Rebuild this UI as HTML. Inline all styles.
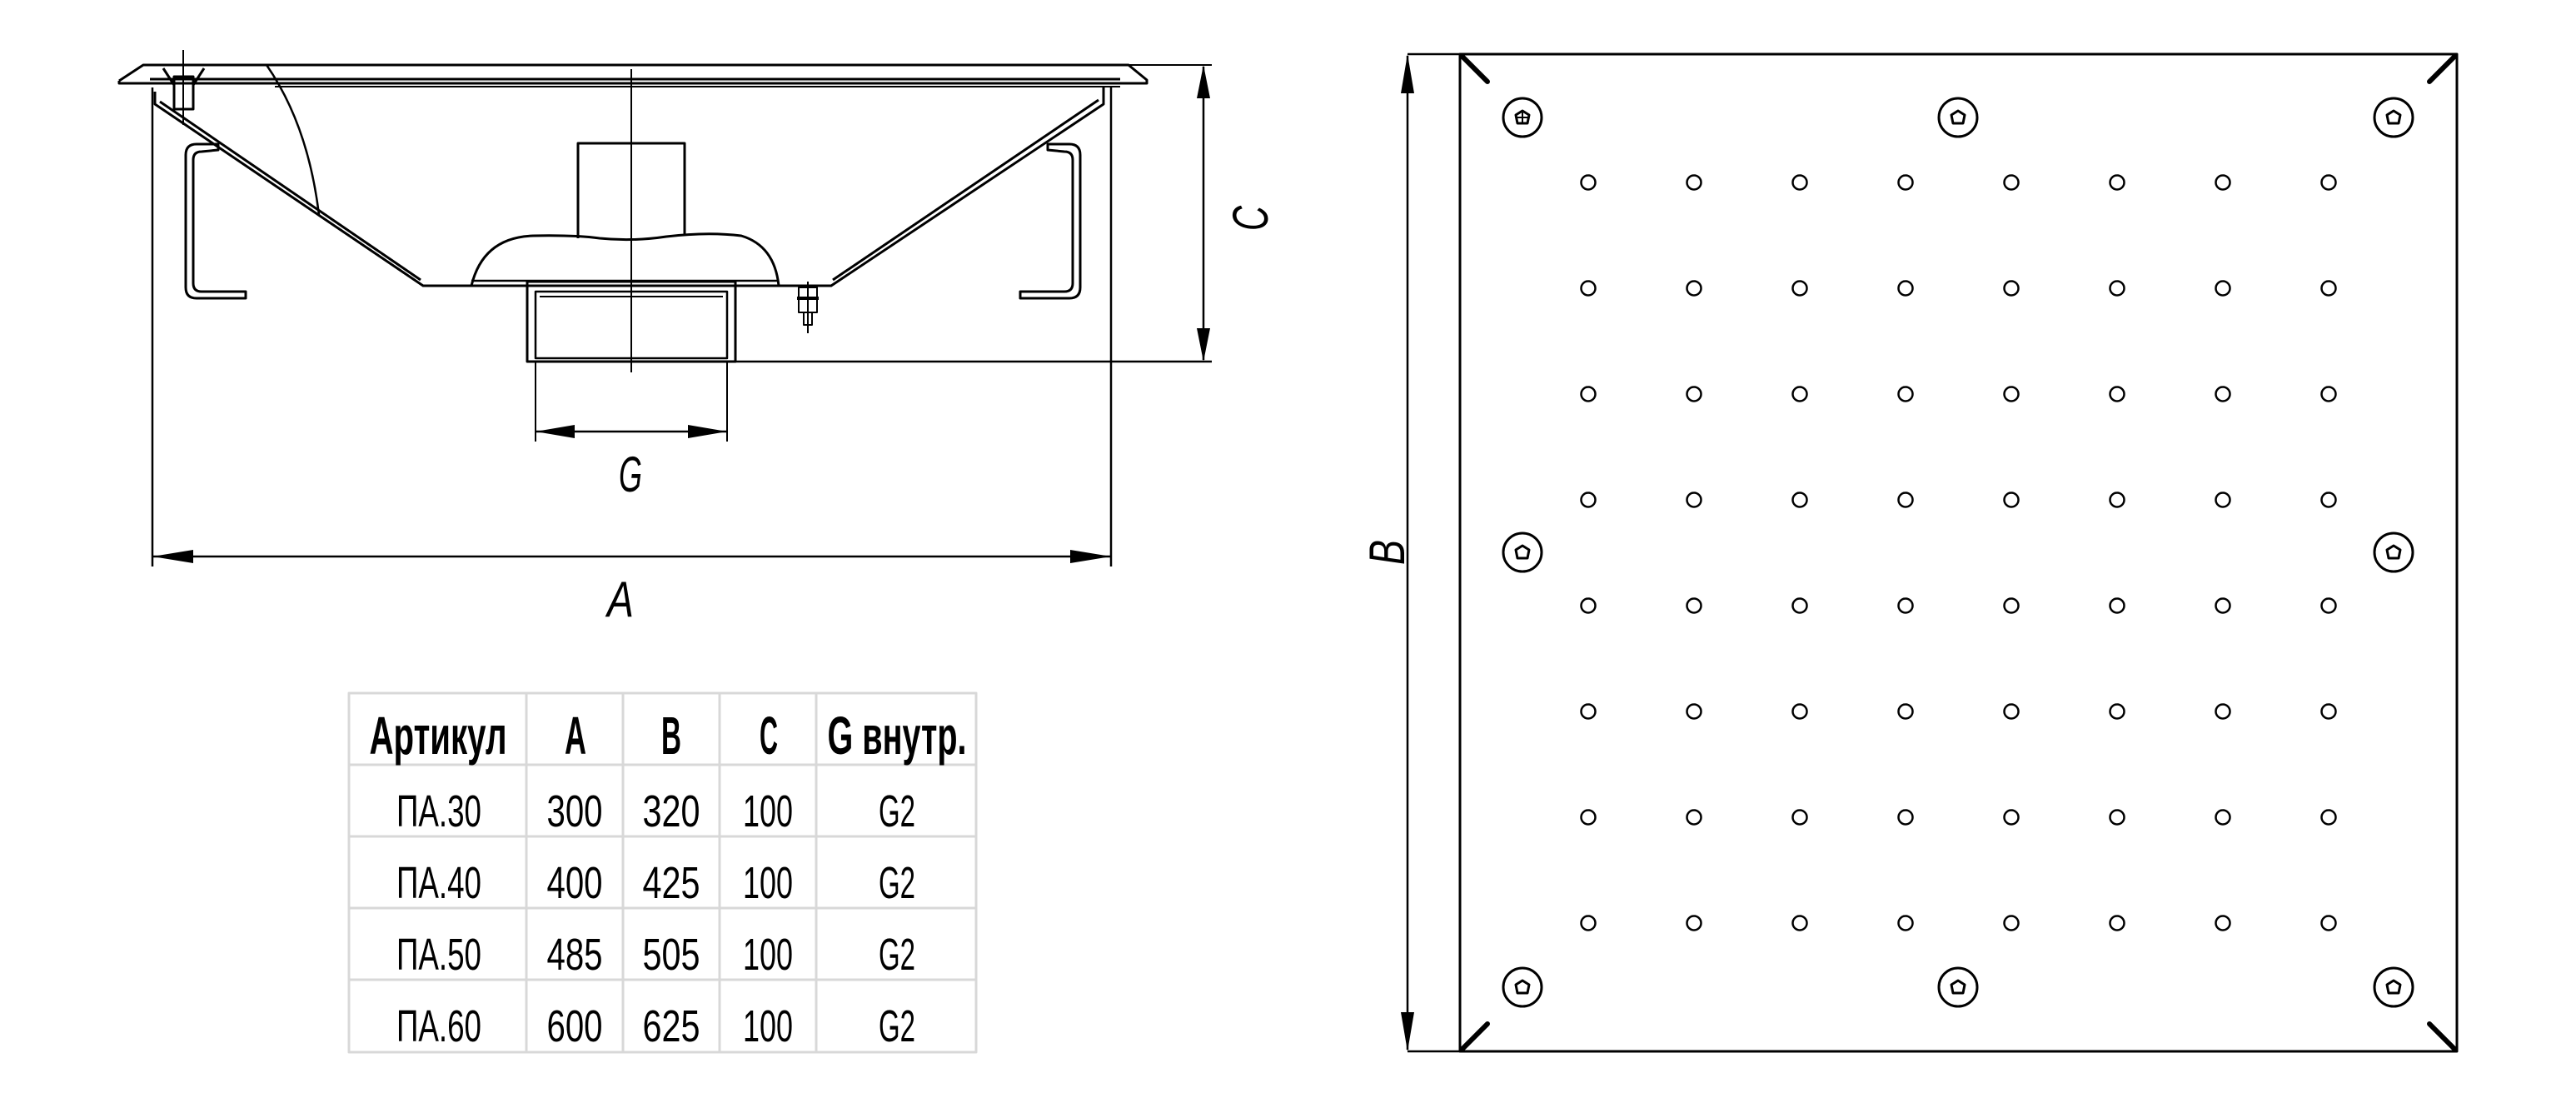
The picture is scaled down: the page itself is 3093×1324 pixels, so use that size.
<!DOCTYPE html>
<html><head><meta charset="utf-8"><style>
html,body{margin:0;padding:0;background:#fff;}
svg{display:block;}
</style></head><body>
<svg width="3093" height="1324" viewBox="0 0 3093 1324" xmlns="http://www.w3.org/2000/svg">
<g fill="none" stroke="#000" stroke-width="3" stroke-linejoin="round">
<polyline points="143,97 172,78 1355,78 1377,96 1377,100 143,100 143,97"/>
<line x1="180" y1="95" x2="1345" y2="95"/>
<line x1="330" y1="104" x2="1345" y2="104" stroke-width="2"/>
<line x1="183" y1="105" x2="183" y2="680" stroke-width="2.5"/>
<line x1="1334" y1="105" x2="1334" y2="680" stroke-width="2.5"/>
<line x1="220" y1="60" x2="220" y2="150" stroke-width="2"/>
<rect x="209" y="92" width="23" height="39"/>
<polyline points="196,82 209,102"/><polyline points="245,82 232,102"/>
<polyline points="186,110 186,125 508,343 998,343 1325,125 1325,105"/>
<polyline points="192,122 505,336"/>
<polyline points="1319,120 1000,336"/>
<path d="M320,78 Q370,150 383,258" stroke-width="2.5"/>
<path d="M262,173 L236,173 Q223,173 223,186 L223,345 Q223,358 236,358 L295,358 L295,350 L242,350 Q232,350 232,340 L232,192 Q232,182 242,182 L262,180 Z"/>
<path d="M1258,173 L1284,173 Q1297,173 1297,186 L1297,345 Q1297,358 1284,358 L1225,358 L1225,350 L1278,350 Q1288,350 1288,340 L1288,192 Q1288,182 1278,182 L1258,180 Z"/>
<line x1="758" y1="83" x2="758" y2="447" stroke-width="2"/>
<polyline points="694,286 694,172 822,172 822,281"/>
<path d="M566,343 Q580,285 640,283 Q690,282 720,286 Q760,290 800,284 Q850,278 890,283 Q930,295 935,343"/>
<line x1="566" y1="337" x2="935" y2="337" stroke-width="2.5"/>
<rect x="633" y="338" width="250" height="96"/>
<rect x="643" y="350" width="230" height="80" stroke-width="2.5"/>
<line x1="648" y1="356" x2="868" y2="356" stroke-width="2"/>
<rect x="959" y="345" width="22" height="30" stroke-width="2"/>
<line x1="957" y1="358" x2="983" y2="358" stroke-width="4"/>
<rect x="965" y="375" width="10" height="15" stroke-width="2"/>
<line x1="970" y1="338" x2="970" y2="400" stroke-width="2"/>
<line x1="1334" y1="78" x2="1455" y2="78" stroke-width="2"/>
<line x1="883" y1="434" x2="1455" y2="434" stroke-width="2.5"/>
<line x1="1445" y1="80" x2="1445" y2="432" stroke-width="2.5"/>
<line x1="643" y1="434" x2="643" y2="530" stroke-width="2"/>
<line x1="873" y1="434" x2="873" y2="530" stroke-width="2"/>
<line x1="643" y1="518" x2="873" y2="518" stroke-width="2.5"/>
<line x1="183" y1="668" x2="1334" y2="668" stroke-width="2.5"/>

<rect x="1753" y="65" width="1197" height="1197" stroke-width="3"/>
<line x1="1690" y1="65" x2="1753" y2="65" stroke-width="2.5"/>
<line x1="1690" y1="1262" x2="1753" y2="1262" stroke-width="2.5"/>
<line x1="1690" y1="67" x2="1690" y2="1260" stroke-width="2.5"/>
<g stroke-width="6" stroke-linecap="round">
<line x1="1756" y1="68" x2="1786" y2="98"/>
<line x1="2947" y1="68" x2="2917" y2="98"/>
<line x1="1756" y1="1259" x2="1786" y2="1229"/>
<line x1="2947" y1="1259" x2="2917" y2="1229"/>
</g>
<g stroke-width="3">
<circle cx="1828" cy="141" r="23"/><polygon points="1828,133 1836,138 1834,148 1822,148 1820,138"/>
<line x1="1822" y1="141" x2="1834" y2="141" stroke-width="2"/><line x1="1828" y1="135" x2="1828" y2="147" stroke-width="2"/>
<circle cx="2351" cy="141" r="23"/><polygon points="2351,133 2359,138 2357,148 2345,148 2343,138"/>
<circle cx="2874" cy="141" r="23"/><polygon points="2874,133 2882,138 2880,148 2868,148 2866,138"/>
<circle cx="1828" cy="663" r="23"/><polygon points="1828,655 1836,660 1834,670 1822,670 1820,660"/>
<circle cx="2874" cy="663" r="23"/><polygon points="2874,655 2882,660 2880,670 2868,670 2866,660"/>
<circle cx="1828" cy="1185" r="23"/><polygon points="1828,1177 1836,1182 1834,1192 1822,1192 1820,1182"/>
<circle cx="2351" cy="1185" r="23"/><polygon points="2351,1177 2359,1182 2357,1192 2345,1192 2343,1182"/>
<circle cx="2874" cy="1185" r="23"/><polygon points="2874,1177 2882,1182 2880,1192 2868,1192 2866,1182"/>
</g>
<g stroke-width="2.5">
<g id="row">
<circle cx="1907" cy="219" r="8.5"/><circle cx="2034" cy="219" r="8.5"/><circle cx="2161" cy="219" r="8.5"/><circle cx="2288" cy="219" r="8.5"/><circle cx="2415" cy="219" r="8.5"/><circle cx="2542" cy="219" r="8.5"/><circle cx="2669" cy="219" r="8.5"/><circle cx="2796" cy="219" r="8.5"/>
</g>
<use href="#row" y="127"/><use href="#row" y="254"/><use href="#row" y="381"/><use href="#row" y="508"/><use href="#row" y="635"/><use href="#row" y="762"/><use href="#row" y="889"/>
</g>

<g stroke="#d8d8d8" stroke-width="3">
<rect x="419" y="832" width="753" height="431"/>
<line x1="419" y1="918" x2="1172" y2="918"/>
<line x1="419" y1="1004" x2="1172" y2="1004"/>
<line x1="419" y1="1090" x2="1172" y2="1090"/>
<line x1="419" y1="1176" x2="1172" y2="1176"/>
<line x1="632" y1="832" x2="632" y2="1263"/>
<line x1="748" y1="832" x2="748" y2="1263"/>
<line x1="864" y1="832" x2="864" y2="1263"/>
<line x1="980" y1="832" x2="980" y2="1263"/>
</g>
</g>
<g fill="#000">
<polygon points="1445,78 1437,118 1453,118"/>
<polygon points="1445,434 1437,394 1453,394"/>
<polygon points="643,518 690,510 690,526"/>
<polygon points="873,518 826,510 826,526"/>
<polygon points="183,668 232,660 232,676"/>
<polygon points="1334,668 1285,660 1285,676"/>
<polygon points="1690,65 1682,112 1698,112"/>
<polygon points="1690,1262 1682,1215 1698,1215"/>
</g>
<g font-family="Liberation Sans Narrow, Liberation Sans, sans-serif" font-style="italic" font-size="60" fill="#000" text-anchor="middle">
<text x="757" y="590" textLength="28" lengthAdjust="spacingAndGlyphs">G</text>
<text x="745" y="740" textLength="32" lengthAdjust="spacingAndGlyphs">A</text>
<text transform="translate(1522,262) rotate(-90)" textLength="30" lengthAdjust="spacingAndGlyphs">C</text>
<text transform="translate(1686,663) rotate(-90)" textLength="30" lengthAdjust="spacingAndGlyphs">B</text>
</g>
<g font-family="Liberation Sans Narrow, Liberation Sans, sans-serif" fill="#000" text-anchor="middle">
<g font-weight="bold" font-size="64">
<text x="526" y="905" textLength="165" lengthAdjust="spacingAndGlyphs">Артикул</text>
<text x="691" y="905" textLength="26" lengthAdjust="spacingAndGlyphs">A</text>
<text x="806" y="905" textLength="24" lengthAdjust="spacingAndGlyphs">B</text>
<text x="923" y="905" textLength="22" lengthAdjust="spacingAndGlyphs">C</text>
<text x="1077" y="905" textLength="167" lengthAdjust="spacingAndGlyphs">G внутр.</text>
</g>
<g font-size="54">
<text x="527" y="992" textLength="102" lengthAdjust="spacingAndGlyphs">ПА.30</text>
<text x="690" y="992" textLength="67" lengthAdjust="spacingAndGlyphs">300</text>
<text x="806" y="992" textLength="69" lengthAdjust="spacingAndGlyphs">320</text>
<text x="922" y="992" textLength="60" lengthAdjust="spacingAndGlyphs">100</text>
<text x="1077" y="992" textLength="44" lengthAdjust="spacingAndGlyphs">G2</text>
<text x="527" y="1078" textLength="102" lengthAdjust="spacingAndGlyphs">ПА.40</text>
<text x="690" y="1078" textLength="67" lengthAdjust="spacingAndGlyphs">400</text>
<text x="806" y="1078" textLength="69" lengthAdjust="spacingAndGlyphs">425</text>
<text x="922" y="1078" textLength="60" lengthAdjust="spacingAndGlyphs">100</text>
<text x="1077" y="1078" textLength="44" lengthAdjust="spacingAndGlyphs">G2</text>
<text x="527" y="1164" textLength="102" lengthAdjust="spacingAndGlyphs">ПА.50</text>
<text x="690" y="1164" textLength="67" lengthAdjust="spacingAndGlyphs">485</text>
<text x="806" y="1164" textLength="69" lengthAdjust="spacingAndGlyphs">505</text>
<text x="922" y="1164" textLength="60" lengthAdjust="spacingAndGlyphs">100</text>
<text x="1077" y="1164" textLength="44" lengthAdjust="spacingAndGlyphs">G2</text>
<text x="527" y="1250" textLength="102" lengthAdjust="spacingAndGlyphs">ПА.60</text>
<text x="690" y="1250" textLength="67" lengthAdjust="spacingAndGlyphs">600</text>
<text x="806" y="1250" textLength="69" lengthAdjust="spacingAndGlyphs">625</text>
<text x="922" y="1250" textLength="60" lengthAdjust="spacingAndGlyphs">100</text>
<text x="1077" y="1250" textLength="44" lengthAdjust="spacingAndGlyphs">G2</text>
</g>
</g>
</svg>
</body></html>
